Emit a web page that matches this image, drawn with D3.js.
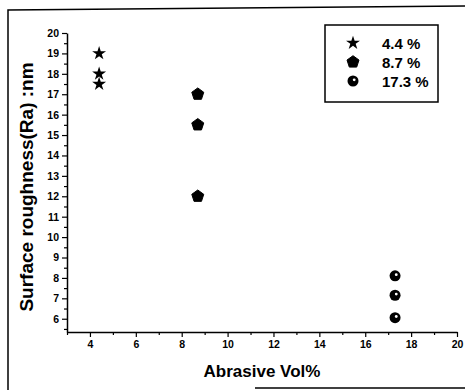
<!DOCTYPE html>
<html>
<head>
<meta charset="utf-8">
<script src="https://cdn.jsdelivr.net/npm/d3@7"></script>
<style>
  body { margin: 0; background: #fff; }
  svg { display: block; font-family: "Liberation Sans", Arial, sans-serif; font-weight: bold; }
</style>
</head>
<body>
<div id="chart"></div>
<script>
// data
const seriesNames = ["4.4 %", "8.7 %", "17.3 %"];
const seriesX = [4.4, 8.7, 17.3];
const seriesY = [
  [19, 18, 17.5],
  [17, 15.5, 12],
  [8.1, 7.15, 6.05]
];
const xTicks = [4, 6, 8, 10, 12, 14, 16, 18, 20];
const yTicks = [6, 7, 8, 9, 10, 11, 12, 13, 14, 15, 16, 17, 18, 19, 20];

const width = 465, height = 390;
const margin = { top: 33, right: 8, bottom: 58, left: 67 };

const svg = d3.select("#chart").append("svg")
  .attr("width", width)
  .attr("height", height);

// outer frame (scanned figure border)
svg.append("path")
  .attr("d", "M8,390 L8,10 L465,6")
  .attr("fill", "none").attr("stroke", "#000").attr("stroke-width", 1.5);
svg.append("line")
  .attr("x1", 255).attr("x2", 465).attr("y1", 388).attr("y2", 388)
  .attr("stroke", "#000").attr("stroke-width", 1.5);

const x = d3.scaleLinear().domain([3, 20]).range([margin.left, width - margin.right]);
const y = d3.scaleLinear().domain([5.35, 20]).range([height - margin.bottom, margin.top]);

// x axis: major + minor ticks
svg.append("g")
  .attr("transform", `translate(0,${height - margin.bottom})`)
  .call(d3.axisBottom(x).tickValues(xTicks).tickSize(5).tickSizeOuter(0).tickPadding(4));
svg.append("g")
  .attr("transform", `translate(0,${height - margin.bottom})`)
  .call(d3.axisBottom(x).tickValues(d3.range(3, 20, 2)).tickSize(3).tickFormat(""))
  .select(".domain").remove();

svg.append("g")
  .attr("transform", `translate(${margin.left},0)`)
  .call(d3.axisLeft(y).tickValues(yTicks).tickSize(5).tickSizeOuter(0).tickPadding(3));
svg.append("g")
  .attr("transform", `translate(${margin.left},0)`)
  .call(d3.axisLeft(y).tickValues(d3.range(5.5, 20, 1)).tickSize(3).tickFormat(""))
  .select(".domain").remove();

svg.selectAll(".domain").attr("stroke-width", 1.5);
svg.selectAll(".tick line").attr("stroke-width", 1.2);
svg.selectAll(".tick text")
  .attr("font-size", "10.5px")
  .attr("font-weight", "bold")
  .attr("font-family", "Liberation Sans, Arial, sans-serif");

// axis titles
svg.append("text")
  .attr("x", 262).attr("y", 377)
  .attr("text-anchor", "middle")
  .attr("font-size", "17px")
  .text("Abrasive Vol%");

svg.append("text")
  .attr("transform", "translate(33,187) rotate(-90)")
  .attr("text-anchor", "middle")
  .attr("font-size", "19px")
  .text("Surface roughness(Ra) :nm");

// marker shapes
const pentagon = r => {
  const pts = d3.range(5).map(i => {
    const a = -Math.PI / 2 + i * 2 * Math.PI / 5;
    return [r * Math.cos(a), r * Math.sin(a)];
  });
  return "M" + pts.join("L") + "Z";
};

function drawMarker(g, idx) {
  if (idx === 0) {
    g.append("path").attr("d", d3.symbol(d3.symbolStar, 60)()).attr("fill", "#000");
  } else if (idx === 1) {
    g.append("path").attr("d", pentagon(6.3))
      .attr("fill", "#000").attr("stroke", "#000").attr("stroke-width", 1).attr("stroke-linejoin", "round");
  } else {
    g.append("circle").attr("r", 5.5).attr("fill", "#000");
    g.append("circle").attr("cx", 1.2).attr("cy", -1.2).attr("r", 1.4).attr("fill", "#fff");
  }
}

const points = seriesY.flatMap((vals, i) => vals.map(v => ({ s: i, x: seriesX[i], y: v })));
svg.append("g").selectAll("g")
  .data(points)
  .join("g")
  .attr("transform", d => `translate(${x(d.x)},${y(d.y)})`)
  .each(function (d) { drawMarker(d3.select(this), d.s); });

// legend
const legend = svg.append("g");
legend.append("rect")
  .attr("x", 325).attr("y", 25).attr("width", 113).attr("height", 77)
  .attr("fill", "#fff").attr("stroke", "#000").attr("stroke-width", 1.5);
seriesNames.forEach((name, i) => {
  const ly = 43 + i * 19;
  const g = legend.append("g").attr("transform", `translate(353,${ly})`);
  drawMarker(g, i);
  legend.append("text")
    .attr("x", 382).attr("y", ly + 5.5)
    .attr("font-size", "15px")
    .text(name);
});
</script>
</body>
</html>
